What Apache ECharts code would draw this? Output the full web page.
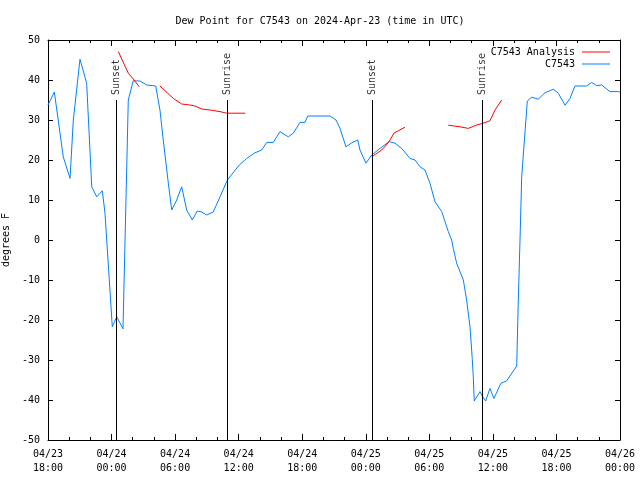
<!DOCTYPE html>
<html><head><meta charset="utf-8">
<script src="https://cdn.jsdelivr.net/npm/echarts@6/dist/echarts.min.js"></script>
<style>html,body{margin:0;padding:0;background:#fff}#c{width:640px;height:480px}</style>
</head><body><div id="c"></div>
<script>
// hours since 2024-04-23 18:00 UTC
const tickLabels = ['04/23\n18:00','04/24\n00:00','04/24\n06:00','04/24\n12:00','04/24\n18:00','04/25\n00:00','04/25\n06:00','04/25\n12:00','04/25\n18:00','04/26\n00:00'];
const obsHours = [0,0.6,1.44,2.08,2.39,3.02,3.65,4.13,4.6,5.13,5.38,6.07,6.49,7.08,7.58,8.05,8.69,9.32,10.17,10.57,10.88,11.36,11.68,12.15,12.62,13.09,13.62,14.09,14.51,14.98,15.6,16.24,16.93,18.06,18.76,19.54,20.17,20.65,21.27,21.9,22.68,23.16,23.79,24.26,24.52,26.62,27.19,27.57,28.13,28.67,29.24,29.45,30.02,30.56,31.34,32.22,32.76,33.39,34.17,34.65,35.12,35.59,36.06,36.53,37.17,37.48,37.79,38.11,38.26,38.58,39.21,39.52,39.84,40.05,40.15,40.24,40.78,40.94,41.32,41.72,42.1,42.76,43.3,44.25,44.4,44.56,44.72,45.25,45.66,46.28,46.92,47.7,48.17,48.81,49.28,49.75,50.85,51.32,51.8,52.27,53.05,53.84,54];
const obsValues = [33.75,37,20.8,15.4,30,45.2,39.2,13.3,10.8,12.3,6.7,-21.7,-19.2,-22.2,35,39.8,39.75,38.75,38.5,32.5,25,14.2,7.5,10,13.3,7.5,5,7.25,7,6.25,7,10.8,15,18.75,20.4,21.8,22.5,24.4,24.4,27.1,25.8,26.7,29.4,29.4,31,31,30,27.9,23.3,24.3,25,22.5,19.2,21.25,22.9,24.6,24.2,22.9,20.4,20,18.3,17.5,14.2,9.6,7.1,4.6,2.1,0,-2.1,-5.8,-10,-15,-21.7,-29.6,-34.2,-40.25,-37.9,-38.75,-40.25,-37.1,-39.6,-35.8,-35.2,-31.5,-15,0,15.8,34.75,35.7,35.2,36.8,37.7,36.7,33.7,35.4,38.5,38.5,39.4,38.6,38.75,37.1,37.1,37];
// null marks a gap in the analysis line
const anaHours = [6.64,7.58,8.05,8.62,9.6,10.57,11.83,12.62,13.4,13.88,14.51,15.29,16.24,16.87,18.63,24,30.56,31.34,31.81,32.29,32.69,33.07,33.7,36,37.79,38.9,39.68,40.47,41.09,41.72,42.2,42.83];
const anaValues = [47.1,41.7,40.25,38.3,null,38.5,35.4,34,33.75,33.5,32.75,32.5,32.1,31.7,31.7,null,20.8,22.2,23.3,25,26.8,27.3,28.2,null,28.7,28.3,27.9,28.75,29.2,29.8,32.5,35];
const sunHours = [6.47,16.92,30.63,40.99];
const sunNames = ['Sunset','Sunrise','Sunset','Sunrise'];
const sunLineTop = 35;

const FONT = 'DejaVu Sans Mono';
const chart = echarts.init(document.getElementById('c'), null, {renderer:'canvas'});
const axisBase = {
  type:'value', min:0, max:54, interval:6,
  axisLine:{show:true, onZero:false, lineStyle:{color:'#000', width:1}},
  splitLine:{show:false}
};
chart.setOption({
  animation:false,
  title:{text:'Dew Point for C7543 on 2024-Apr-23 (time in UTC)', left:'center', top:11,
    textStyle:{fontFamily:FONT, fontSize:10, fontWeight:'normal', color:'#000'}},
  legend:{orient:'vertical', right:25, top:42, align:'right', itemGap:2, itemWidth:28, itemHeight:1,
    icon:'rect', textStyle:{fontFamily:FONT, fontSize:10, color:'#000', padding:[0,2,0,0]},
    data:['C7543 Analysis','C7543']},
  grid:{left:48, right:20, top:40, bottom:40, outerBoundsMode:'none', containLabel:false},
  xAxis:[
    Object.assign({}, axisBase, {position:'bottom',
      axisTick:{show:true, inside:true, length:6, lineStyle:{color:'#000'}},
      minorTick:{show:true, splitNumber:3, length:3, lineStyle:{color:'#000'}},
      axisLabel:{formatter:v=>tickLabels[Math.round(v/6)], fontFamily:FONT, fontSize:10, color:'#000', lineHeight:14, margin:7}}),
    Object.assign({}, axisBase, {position:'top',
      axisTick:{show:true, inside:true, length:6, lineStyle:{color:'#000'}},
      minorTick:{show:true, splitNumber:3, length:3, lineStyle:{color:'#000'}},
      axisLabel:{show:false}})
  ],
  yAxis:[
    {type:'value', min:-50, max:50, interval:10, position:'left',
      name:'degrees F', nameLocation:'middle', nameGap:32, nameRotate:90,
      nameTextStyle:{fontFamily:FONT, fontSize:10, color:'#000'},
      axisLine:{show:true, onZero:false, lineStyle:{color:'#000'}},
      axisTick:{show:true, inside:true, length:5, lineStyle:{color:'#000'}},
      axisLabel:{fontFamily:FONT, fontSize:10, color:'#000', margin:8},
      splitLine:{show:false}},
    {type:'value', min:-50, max:50, interval:10, position:'right',
      axisLine:{show:true, onZero:false, lineStyle:{color:'#000'}},
      axisTick:{show:true, inside:true, length:5, lineStyle:{color:'#000'}},
      axisLabel:{show:false}, splitLine:{show:false}}
  ],
  series:[
    {name:'C7543 Analysis', type:'line', showSymbol:false, connectNulls:false,
      lineStyle:{color:'#ff0000', width:1}, itemStyle:{color:'#ff0000'},
      data:anaHours.map((h,i)=>[h, anaValues[i]]), z:3},
    {name:'C7543', type:'line', showSymbol:false,
      lineStyle:{color:'#0080ff', width:1}, itemStyle:{color:'#0080ff'},
      data:obsHours.map((h,i)=>[h, obsValues[i]]), z:2},
    {name:'sun', type:'scatter', symbolSize:0, silent:true,
      data:sunHours.map((h,i)=>({value:[h, sunLineTop], name:sunNames[i]})),
      label:{show:true, position:'inside', rotate:90, align:'left', verticalAlign:'middle',
        offset:[5,0], formatter:p=>p.name, fontFamily:FONT, fontSize:10, color:'#000'},
      markLine:{silent:true, symbol:'none', label:{show:false},
        lineStyle:{color:'#000', width:1, type:'solid'},
        data:sunHours.map(h=>[{coord:[h, sunLineTop]},{coord:[h, -50]}])},
      z:4}
  ]
});
</script></body></html>
